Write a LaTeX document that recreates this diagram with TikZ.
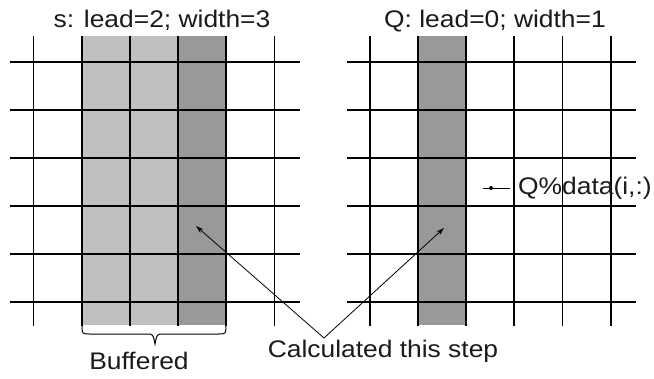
\documentclass[tikz,border=0pt]{standalone}
\usepackage{fontspec}
\setmainfont{Liberation Sans}[FakeStretch=1.1]
\usetikzlibrary{arrows.meta}
\definecolor{lightcell}{HTML}{C0C0C0}
\definecolor{darkcell}{HTML}{999999}
\definecolor{txt}{HTML}{1A1A1A}
\tikzset{
  gridline/.style={line width=1.5pt, black},
  label/.style={inner sep=0pt, text=txt, font=\fontsize{24}{28}\selectfont},
  pointer/.style={line width=0.8pt, -{Stealth[length=8pt,width=5pt]}},
  bracepath/.style={line width=1pt, black},
}
\begin{document}
\begin{tikzpicture}[x=1pt,y=-1pt]
\useasboundingbox (0,0) rectangle (654,378);
% shading left
\fill[lightcell] (82,36) rectangle (178,325);
\fill[darkcell] (178,36) rectangle (226,325);
% shading right
\fill[darkcell] (418,36) rectangle (466,325);
% left grid
\foreach \x in {33.5,82,130,178,226,274.5} \draw[gridline] (\x,36) -- (\x,326);
\foreach \y in {62,110,158,206,254,302} \draw[gridline] (10,\y) -- (300,\y);
% right grid
\foreach \x in {370,418,466,514,562.5,611} \draw[gridline] (\x,36) -- (\x,326);
\foreach \y in {62,110,158,206,254,302} \draw[gridline] (347,\y) -- (636,\y);
% titles
\node[label, anchor=base] (ts) at (162,27) {s: lead=2; width=3};
\node[label, anchor=base] (tq) at (495,27) {Q: lead=0; width=1};
% brace
\draw[bracepath] (82,325) .. controls (82,334) .. (90,334) -- (147,334)
  .. controls (153,334) .. (155,344) .. controls (157,334) .. (163,334)
  -- (218,334) .. controls (226,334) .. (226,325);
\coordinate (bracetip) at (155,344);
\node[label, anchor=base] (buf) at (139,369) {Buffered};
% calculated
\node[label, anchor=base] (calc) at (383,357) {Calculated this step};
\coordinate (cstart) at (324,338);
\coordinate (tipL) at (196,226);
\coordinate (tipR) at (444,228);
\draw[pointer] (cstart) -- (tipL);
\draw[pointer] (cstart) -- (tipR);
% Q%data
\node[label, anchor=base west] (qd) at (518,194) {Q\%data(i,:)};
\coordinate (qa) at (483,188);
\coordinate (qb) at (510,188);
\draw[line width=1pt] (qa) -- (qb);
\fill (491,188) circle (2pt);
\end{tikzpicture}
\end{document}
